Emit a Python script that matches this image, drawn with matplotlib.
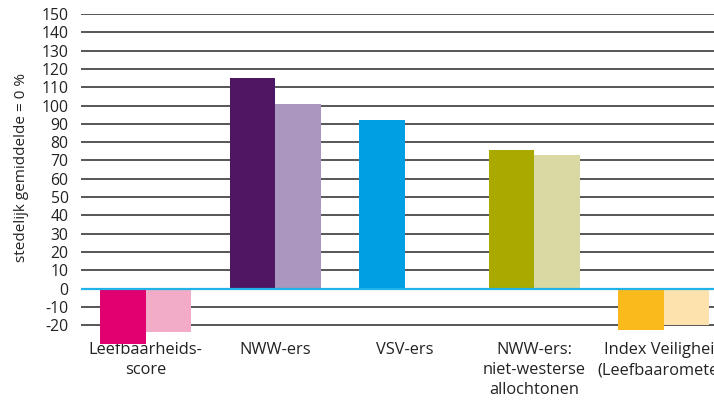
import matplotlib
matplotlib.use("Agg")
import matplotlib.pyplot as plt
import numpy as np

categories = ["Leefbaarheids-\nscore", "NWW-ers", "VSV-ers",
              "NWW-ers:\nniet-westerse\nallochtonen", "Index Veiligheid\n(Leefbaarometer)"]
series_a = [-30, 115, 92, 76, -22.5]
series_b = [-23.5, 101, np.nan, 73, -20]
colors_a = ["#E0006F", "#4F1763", "#009FE3", "#AAA900", "#FBBA1B"]
colors_b = ["#F2ACC8", "#AA96BE", "#FFFFFF", "#DAD9A4", "#FDE2AE"]
yticks = list(range(-20, 151, 10))

plt.rcParams['font.family'] = ['Open Sans', 'DejaVu Sans']

fig = plt.figure(figsize=(7.14, 4.0), dpi=100)
ax = fig.add_axes([81/714, 1-343.6/400, 647.5/714, (343.6-14)/400])

x = np.arange(len(categories))
w = 0.352
ax.bar(x - w/2, series_a, width=w, color=colors_a, zorder=2, linewidth=0)
ax.bar(x + w/2, series_b, width=w, color=colors_b, zorder=2, linewidth=0)

for t in yticks:
    if t != 0:
        ax.axhline(t, color="#3a3a3a", lw=1.2, zorder=1)
ax.axhline(0, color="#1FB3E8", lw=1.6, zorder=3)

ax.set_xlim(-0.5, 4.5)
ax.set_ylim(-30, 150)
ax.set_yticks(yticks)
ax.set_yticklabels([str(t) for t in yticks], fontsize=11.3, color="#222222")
ax.set_xticks(x)
ax.set_xticklabels(categories, fontsize=11.8, color="#222222", linespacing=1.33)
ax.tick_params(axis='both', length=0)
ax.tick_params(axis='y', pad=9)
ax.tick_params(axis='x', pad=-1)
for s in ax.spines.values():
    s.set_visible(False)

fig.text(22/714, 1-167/400, "stedelijk gemiddelde = 0 %", rotation=90,
         ha='center', va='center', fontsize=11, color="#222222")

fig.savefig("out.png", dpi=100)
